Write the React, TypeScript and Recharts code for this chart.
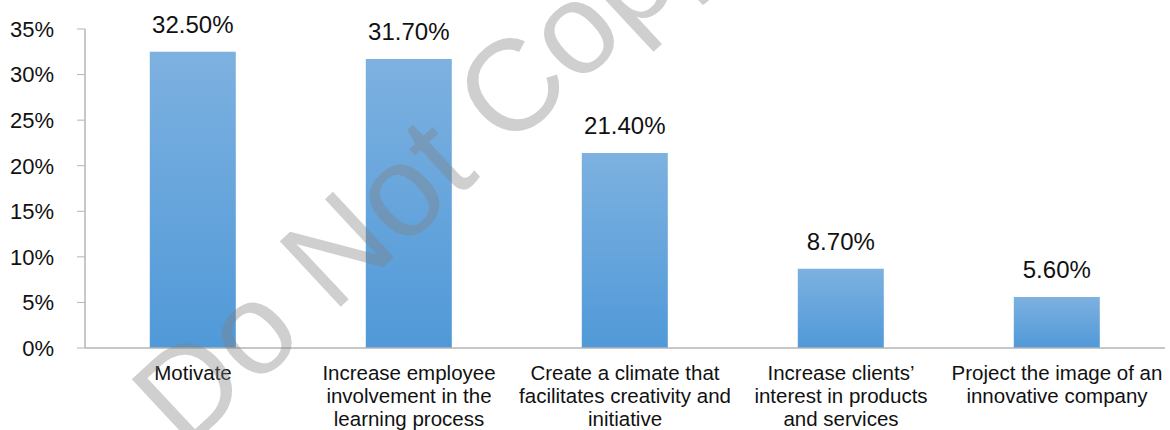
import { BarChart, Bar, XAxis, YAxis, LabelList } from "recharts";

const categories = [
  "Motivate",
  "Increase employee\ninvolvement in the\nlearning process",
  "Create a climate that\nfacilitates creativity and\ninitiative",
  "Increase clients’\ninterest in products\nand services",
  "Project the image of an\ninnovative company",
];
const shares = [32.5, 31.7, 21.4, 8.7, 5.6];
const yTicks = [0, 5, 10, 15, 20, 25, 30, 35];

const data = categories.map((name, i) => ({ name, value: shares[i] }));

const FONT = "'Liberation Sans', Arial, sans-serif";

function CategoryTick(props: any) {
  const { x, y, payload } = props;
  const lines = String(payload.value).split("\n");
  return (
    <text
      x={x}
      y={y}
      textAnchor="middle"
      fontFamily={FONT}
      fontSize={20.5}
      fill="#111"
    >
      {lines.map((line, i) => (
        <tspan key={i} x={x} dy={i === 0 ? 24 : 23}>
          {line}
        </tspan>
      ))}
    </text>
  );
}

export default function App() {
  return (
    <div style={{ position: "absolute", left: 0, top: 0, width: 1170, height: 430, background: "#fff" }}>
      <BarChart
        width={1170}
        height={430}
        data={data}
        margin={{ top: 29, right: 5, bottom: 0, left: 0 }}
        barCategoryGap="30%"
      >
        <defs>
          <linearGradient id="barFill" x1="0" y1="0" x2="0" y2="1">
            <stop offset="0%" stopColor="#7db1e0" />
            <stop offset="100%" stopColor="#5099d8" />
          </linearGradient>
        </defs>
        <XAxis
          dataKey="name"
          height={82}
          interval={0}
          tickLine={false}
          axisLine={{ stroke: "#b5b5b5", strokeWidth: 1.5 }}
          tick={<CategoryTick />}
        />
        <YAxis
          width={85}
          domain={[0, 35]}
          ticks={yTicks}
          interval={0}
          tickFormatter={(v) => `${v}%`}
          tickSize={8}
          tickMargin={23}
          axisLine={{ stroke: "#b5b5b5", strokeWidth: 1.5 }}
          tickLine={{ stroke: "#b5b5b5" }}
          tick={{ fontFamily: FONT, fontSize: 22, fill: "#111" }}
        />
        <Bar dataKey="value" fill="url(#barFill)" isAnimationActive={false}>
          <LabelList
            dataKey="value"
            position="top"
            offset={19}
            formatter={(v: any) => `${Number(v).toFixed(2)}%`}
            style={{ fontFamily: FONT, fontSize: 24, fill: "#111" }}
          />
        </Bar>
      </BarChart>
      <svg
        width={1170}
        height={430}
        style={{ position: "absolute", left: 0, top: 0, pointerEvents: "none" }}
      >
        <text
          x={185}
          y={452}
          transform="rotate(-43 185 452)"
          fontFamily={FONT}
          fontSize={130}
          fill="#808080"
          fillOpacity={0.38}
        >
          Do Not Copy
        </text>
      </svg>
    </div>
  );
}
